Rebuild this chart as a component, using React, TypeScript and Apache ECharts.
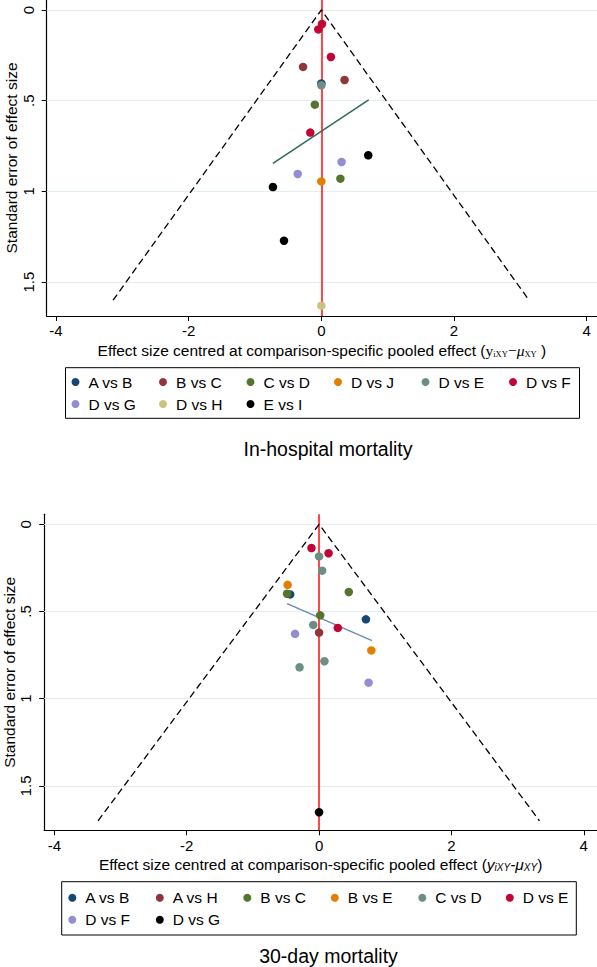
import React, { useEffect, useRef } from 'react';
import * as echarts from 'echarts';

// ---------- shared tick values ----------
const xTicks = [-4, -2, 0, 2, 4];
const yTicks = [0, 0.5, 1, 1.5];

// ---------- In-hospital mortality ----------
const ihCategories = ['A vs B', 'B vs C', 'C vs D', 'D vs J', 'D vs E', 'D vs F', 'D vs G', 'D vs H', 'E vs I'];
const ihColors = ['#1a476f', '#90353b', '#55752f', '#e37e00', '#6e8e84', '#c10534', '#938dd2', '#cac27e', '#000000'];
const ihAvsB = [[0.0, 0.405]];
const ihBvsC = [[-0.276, 0.314], [0.35, 0.386]];
const ihCvsD = [[-0.098, 0.522], [0.287, 0.93]];
const ihDvsJ = [[0.0, 0.945]];
const ihDvsE = [[0.0, 0.415]];
const ihDvsF = [[0.01, 0.077], [-0.046, 0.107], [0.144, 0.259], [-0.167, 0.676]];
const ihDvsG = [[0.305, 0.838], [-0.356, 0.904]];
const ihDvsH = [[0.0, 1.63]];
const ihEvsI = [[0.707, 0.801], [-0.73, 0.976], [-0.563, 1.272]];
const ihPoints = [ihAvsB, ihBvsC, ihCvsD, ihDvsJ, ihDvsE, ihDvsF, ihDvsG, ihDvsH, ihEvsI];
const ihFit = [[-0.73, 0.846], [0.713, 0.496]];
const ihFunnel = [[-3.14, 1.6], [0, 0], [3.13, 1.6]];

// ---------- 30-day mortality ----------
const dCategories = ['A vs B', 'A vs H', 'B vs C', 'B vs E', 'C vs D', 'D vs E', 'D vs F', 'D vs G'];
const dColors = ['#1a476f', '#90353b', '#55752f', '#e37e00', '#6e8e84', '#c10534', '#938dd2', '#000000'];
const dAvsB = [[-0.437, 0.402], [0.708, 0.545]];
const dAvsH = [[0.0, 0.621]];
const dBvsC = [[-0.484, 0.398], [0.449, 0.388], [0.017, 0.522]];
const dBvsE = [[-0.475, 0.347], [0.79, 0.723]];
const dCvsD = [[0.0, 0.184], [0.046, 0.266], [-0.088, 0.577], [0.081, 0.785], [-0.295, 0.82]];
const dDvsE = [[-0.115, 0.136], [0.144, 0.166], [0.283, 0.594]];
const dDvsF = [[-0.363, 0.628], [0.748, 0.908]];
const dDvsG = [[0.0, 1.651]];
const dPoints = [dAvsB, dAvsH, dBvsC, dBvsE, dCvsD, dDvsE, dDvsF, dDvsG];
const dFit = [[-0.484, 0.455], [0.8, 0.667]];
const dFunnel = [[-3.34, 1.7], [0, 0], [3.33, 1.7]];

const FONT = '"Liberation Sans", Arial, sans-serif';
const SERIF = '"Liberation Serif", "Times New Roman", serif';

const topCfg = {
  title: 'In-hospital mortality',
  titleX: 328,
  titleTop: 439,
  gridLeft: 46.7,
  gridTop: 0,
  xMin: -4.14,
  xMax: 4.155,
  yMin: -0.055,
  yMax: 1.687,
  xLabelMargin: 7,
  xName: 'Effect size centred at comparison-specific pooled effect ({m|y}{s|iXY}{m|−}{g|μ}{s|XY} )',
  rich: {
    m: { fontFamily: SERIF, fontSize: 15.5, color: '#000' },
    g: { fontFamily: SERIF, fontStyle: 'italic', fontSize: 15.5, color: '#000' },
    s: { fontFamily: SERIF, fontSize: 8.5, color: '#000', padding: [7, 0, 0, 0] },
  },
  categories: ihCategories,
  colors: ihColors,
  points: ihPoints,
  fit: ihFit,
  fitColor: '#2b6b5c',
  funnel: ihFunnel,
  legendLeft: 65.5,
  legendTop: 367.7,
  legendPadding: [5.3, 1, 5.3, 6],
  legendLastCol: 'D vs F',
};

const botCfg = {
  title: '30-day mortality',
  titleX: 328.5,
  titleTop: 466,
  gridLeft: 44.2,
  gridTop: 34.3,
  xMin: -4.154,
  xMax: 4.2,
  yMin: -0.0573,
  yMax: 1.7546,
  xLabelMargin: 8,
  xName: 'Effect size centred at comparison-specific pooled effect ({m|y}{s|iXY}{m|-μ}{s|XY})',
  rich: {
    m: { fontFamily: FONT, fontStyle: 'italic', fontSize: 15.5, color: '#000' },
    s: { fontFamily: FONT, fontStyle: 'italic', fontSize: 10, color: '#000', padding: [6, 0, 0, 0] },
  },
  categories: dCategories,
  colors: dColors,
  points: dPoints,
  fit: dFit,
  fitColor: '#6a8cb5',
  funnel: dFunnel,
  legendLeft: 61.7,
  legendTop: 401.7,
  legendPadding: [7, 1, 6.3, 6.6],
  legendLastCol: 'D vs E',
};

function buildOption(cfg: any) {
  const series: any[] = [];
  series.push({
    type: 'line',
    name: 'funnel',
    data: cfg.funnel,
    symbol: 'none',
    silent: true,
    z: 2,
    lineStyle: { color: '#000', width: 1.3, type: [7, 4] },
    markLine: {
      silent: true,
      symbol: 'none',
      z: 1,
      label: { show: false },
      lineStyle: { color: '#e2eef0', width: 1, type: 'solid' },
      data: yTicks.map((v) => ({ yAxis: v })),
    },
  });
  series.push({
    type: 'line',
    name: 'fit',
    data: cfg.fit,
    symbol: 'none',
    silent: true,
    z: 2,
    lineStyle: { color: cfg.fitColor, width: 1.5 },
    markLine: {
      silent: true,
      symbol: 'none',
      z: 2,
      label: { show: false },
      lineStyle: { color: '#ff1a1a', width: 1.6, type: 'solid' },
      data: [{ xAxis: 0 }],
    },
  });
  cfg.categories.forEach((name: string, i: number) => {
    series.push({
      type: 'scatter',
      name,
      data: cfg.points[i],
      symbol: 'circle',
      symbolSize: 8.5,
      z: 3,
      itemStyle: { color: cfg.colors[i], opacity: 1 },
    });
  });

  return {
    animation: false,
    backgroundColor: '#fff',
    textStyle: { fontFamily: FONT, color: '#000' },
    title: {
      text: cfg.title,
      left: cfg.titleX,
      top: cfg.titleTop,
      textAlign: 'center',
      padding: 0,
      textStyle: { fontSize: 19.5, fontWeight: 'normal', color: '#000', fontFamily: FONT },
    },
    grid: {
      left: cfg.gridLeft,
      right: 0,
      top: cfg.gridTop,
      height: 316,
      containLabel: false,
      outerBoundsMode: 'none',
    },
    xAxis: {
      type: 'value',
      min: cfg.xMin,
      max: cfg.xMax,
      axisLine: { show: true, onZero: false, lineStyle: { color: '#000', width: 1.2 } },
      axisTick: { show: true, customValues: xTicks, length: 5, lineStyle: { color: '#000', width: 1 } },
      axisLabel: { show: true, customValues: xTicks, fontSize: 15, color: '#000', margin: cfg.xLabelMargin, fontFamily: FONT },
      splitLine: { show: false },
      name: cfg.xName,
      nameLocation: 'middle',
      nameGap: 26,
      nameMoveOverlap: false,
      nameTextStyle: { fontSize: 15.5, color: '#000', fontFamily: FONT, rich: cfg.rich },
    },
    yAxis: {
      type: 'value',
      inverse: true,
      min: cfg.yMin,
      max: cfg.yMax,
      axisLine: { show: true, onZero: false, lineStyle: { color: '#000', width: 1.2 } },
      axisTick: { show: true, customValues: yTicks, length: 5, lineStyle: { color: '#000', width: 1 } },
      axisLabel: {
        show: true,
        customValues: yTicks,
        rotate: 90,
        fontSize: 15,
        color: '#000',
        margin: 11,
        fontFamily: FONT,
        formatter: (v: number) => (v === 0.5 ? '.5' : String(v)),
      },
      splitLine: { show: false },
      name: 'Standard error of effect size',
      nameLocation: 'middle',
      nameGap: 27,
      nameMoveOverlap: false,
      nameTextStyle: { fontSize: 15.5, color: '#000', fontFamily: FONT },
    },
    legend: {
      data: cfg.categories,
      left: cfg.legendLeft,
      top: cfg.legendTop,
      width: 515,
      orient: 'horizontal',
      padding: cfg.legendPadding,
      icon: 'circle',
      itemWidth: 16,
      itemHeight: 8,
      itemGap: 4,
      borderColor: '#000',
      borderWidth: 1,
      borderRadius: 0,
      selectedMode: false,
      formatter: (name: string) => (name === cfg.legendLastCol ? `{b|${name}}` : `{a|${name}}`),
      textStyle: {
        fontSize: 15.5,
        color: '#000',
        fontFamily: FONT,
        rich: {
          a: { width: 66.5, height: 18, lineHeight: 18, fontSize: 15.5, color: '#000', fontFamily: FONT },
          b: { width: 52.5, height: 18, lineHeight: 18, fontSize: 15.5, color: '#000', fontFamily: FONT },
        },
      },
    },
    series,
  };
}

export default function App() {
  const r1 = useRef<HTMLDivElement>(null);
  const r2 = useRef<HTMLDivElement>(null);
  useEffect(() => {
    const c1 = echarts.init(r1.current!, null, { renderer: 'svg' });
    c1.setOption(buildOption(topCfg));
    const c2 = echarts.init(r2.current!, null, { renderer: 'svg' });
    c2.setOption(buildOption(botCfg));
    return () => {
      c1.dispose();
      c2.dispose();
    };
  }, []);
  return (
    <div style={{ position: 'fixed', left: 0, top: 0, width: 597, height: 967, background: '#fff' }}>
      <div ref={r1} style={{ position: 'absolute', left: 0, top: 0, width: 597, height: 480 }} />
      <div ref={r2} style={{ position: 'absolute', left: 0, top: 480, width: 597, height: 487 }} />
    </div>
  );
}
